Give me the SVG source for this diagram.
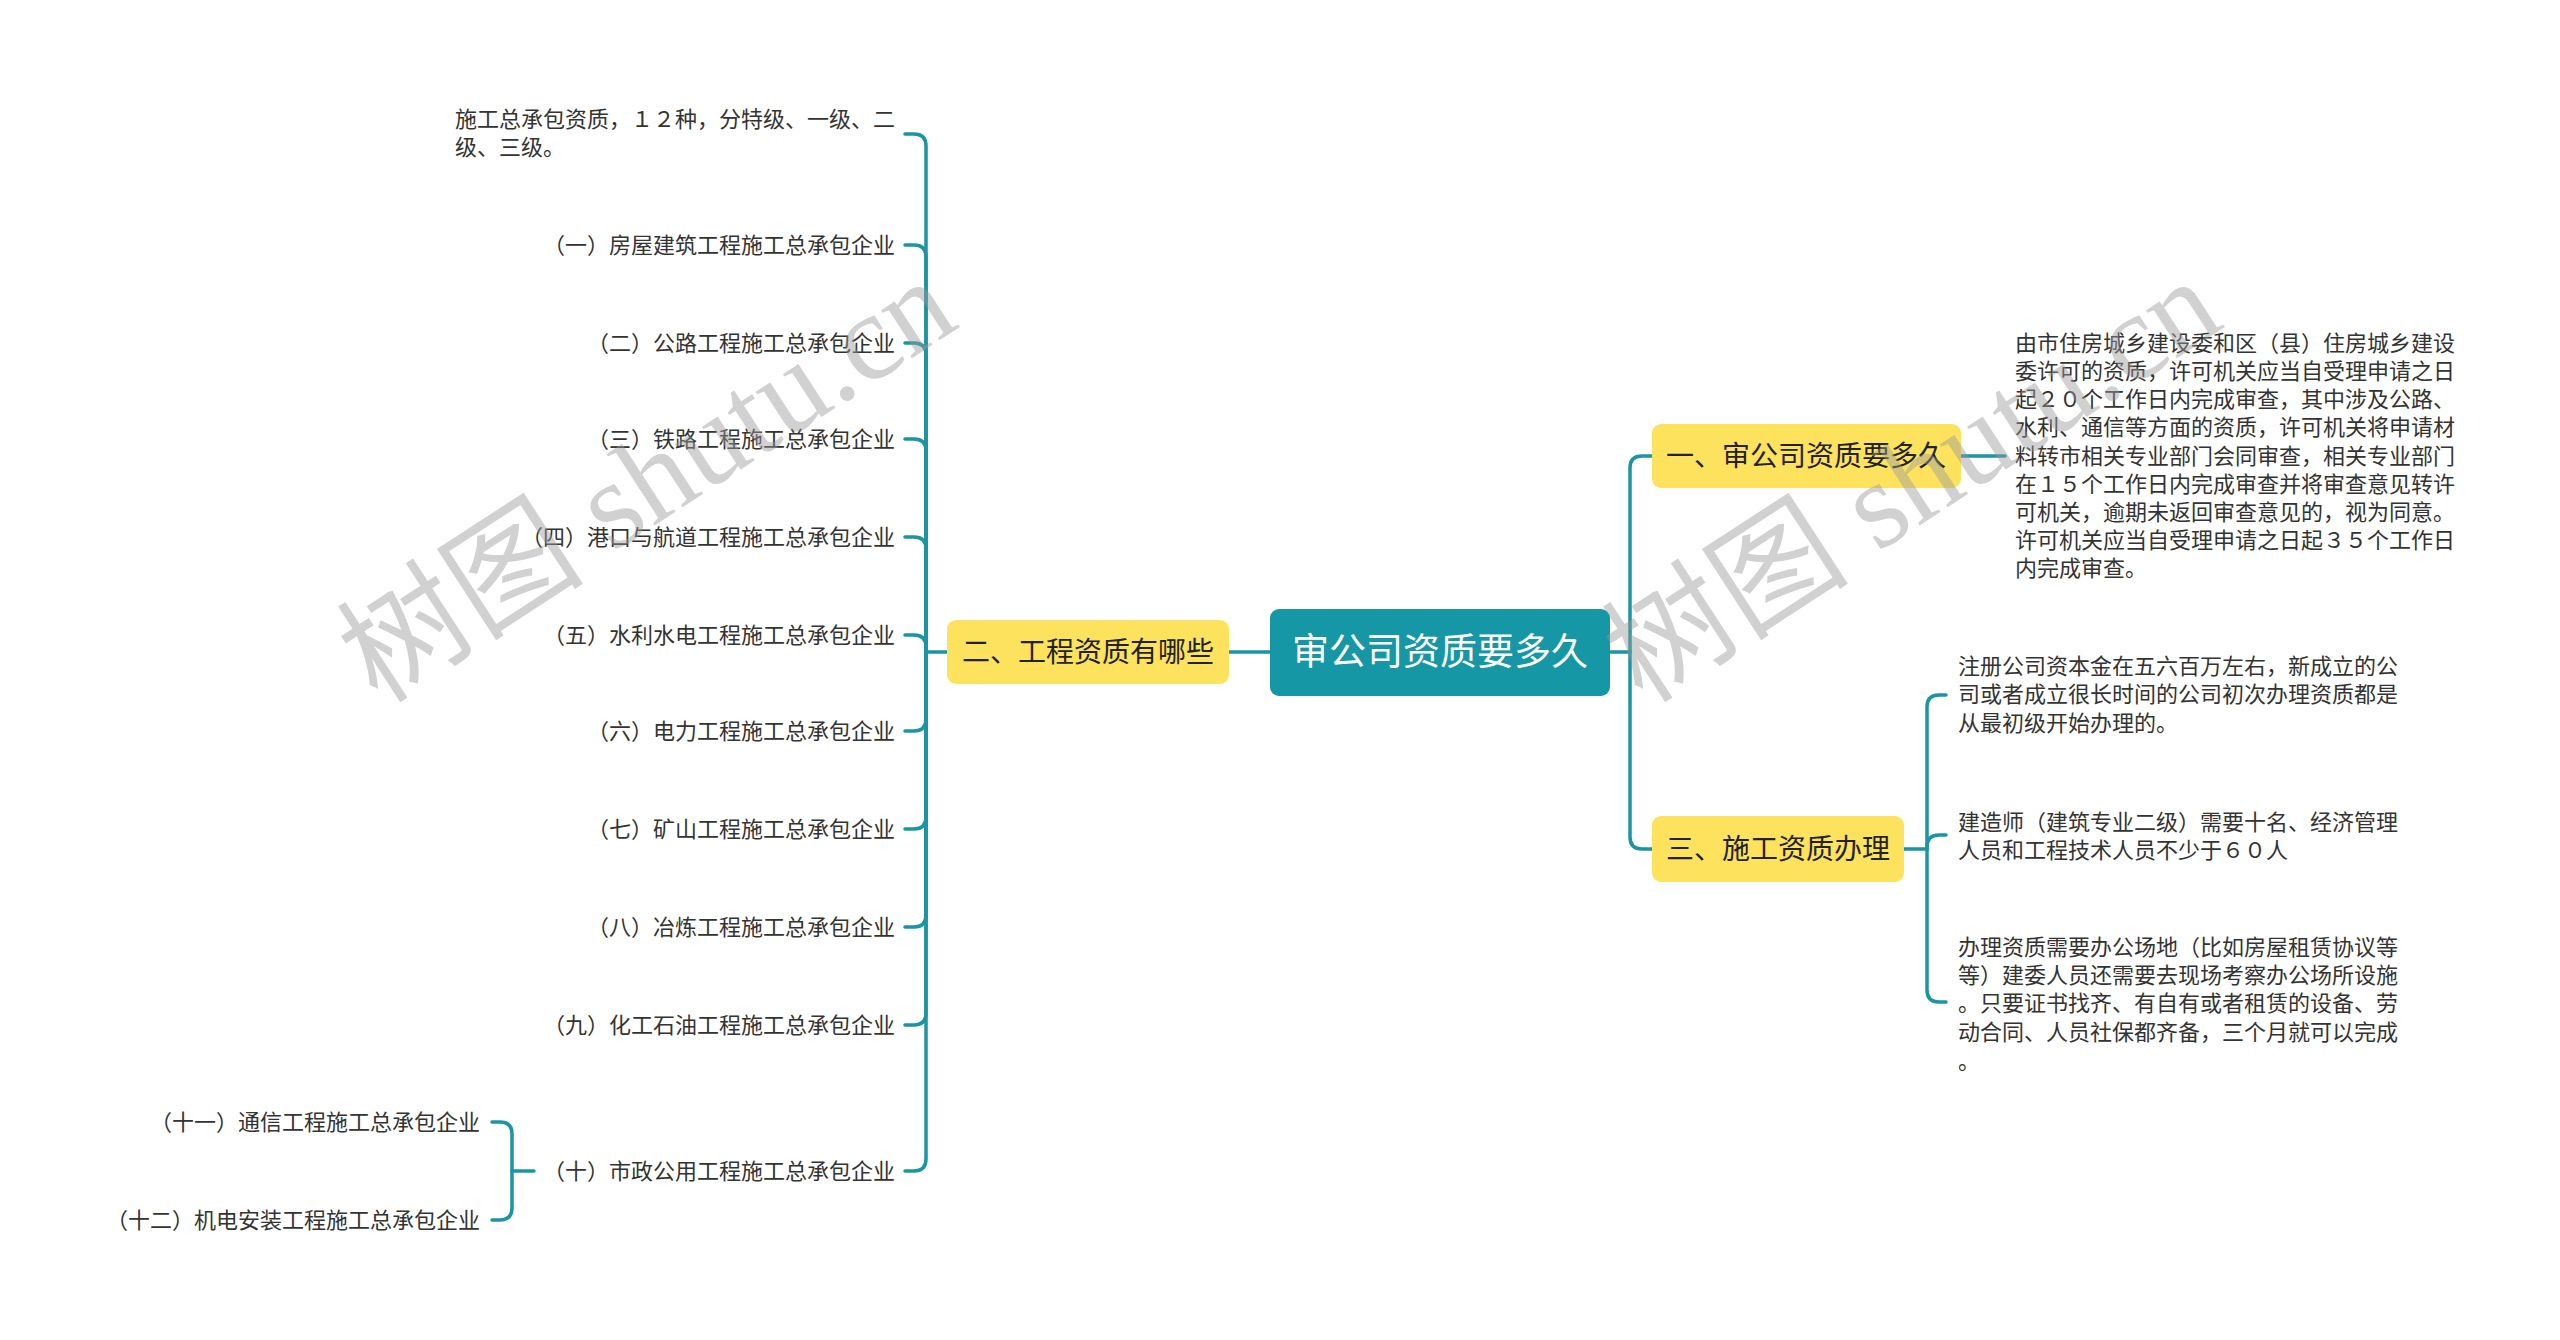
<svg xmlns="http://www.w3.org/2000/svg" width="2560" height="1340" viewBox="0 0 2560 1340">
<style>
.bg{fill:#ffffff}
.ln{fill:none;stroke:#1a95a4;stroke-width:3.5;stroke-linecap:round;stroke-linejoin:round}
.center{fill:#1597a5}
.sub{fill:#fde35d}
.ct{font-family:"Noto Sans CJK SC","Noto Sans",sans-serif;font-size:37px;fill:#ffffff;text-anchor:middle}
.st{font-family:"Noto Sans CJK SC","Noto Sans",sans-serif;font-size:28px;fill:#222222;text-anchor:middle}
.lt{font-family:"Noto Sans CJK SC","Noto Sans",sans-serif;font-size:22px;fill:#333333}
.end{text-anchor:end}
.wm{font-family:"Liberation Serif","Noto Sans CJK SC",serif;font-size:124px;fill:#9a9a9a;fill-opacity:0.45}
</style>
<rect class="bg" x="0" y="0" width="2560" height="1340"/>

<g id="connectors">
  <path class="ln" d="M1229 652 L1270 652"/>
  <path class="ln" d="M947 652 L926 652"/>
  <path class="ln" d="M926 652 L926 146 Q926 134 914 134 L905 134"/>
  <path class="ln" d="M926 652 L926 257 Q926 245 914 245 L905 245"/>
  <path class="ln" d="M926 652 L926 355 Q926 343 914 343 L905 343"/>
  <path class="ln" d="M926 652 L926 451 Q926 439 914 439 L905 439"/>
  <path class="ln" d="M926 652 L926 549 Q926 537 914 537 L905 537"/>
  <path class="ln" d="M926 652 L926 647 Q926 635 914 635 L905 635"/>
  <path class="ln" d="M926 652 L926 719 Q926 731 914 731 L905 731"/>
  <path class="ln" d="M926 652 L926 817 Q926 829 914 829 L905 829"/>
  <path class="ln" d="M926 652 L926 915 Q926 927 914 927 L905 927"/>
  <path class="ln" d="M926 652 L926 1013 Q926 1025 914 1025 L905 1025"/>
  <path class="ln" d="M926 652 L926 1159 Q926 1171 914 1171 L905 1171"/>
  <path class="ln" d="M534 1171 L512 1171"/>
  <path class="ln" d="M512 1171 L512 1134 Q512 1122 500 1122 L492 1122"/>
  <path class="ln" d="M512 1171 L512 1208 Q512 1220 500 1220 L492 1220"/>
  <path class="ln" d="M1610 652 L1630 652"/>
  <path class="ln" d="M1630 652 L1630 468 Q1630 456 1642 456 L1652 456"/>
  <path class="ln" d="M1630 652 L1630 837 Q1630 849 1642 849 L1652 849"/>
  <path class="ln" d="M1961 456 L2005 456"/>
  <path class="ln" d="M1904 849 L1927 849"/>
  <path class="ln" d="M1927 849 L1927 707 Q1927 695 1939 695 L1946 695"/>
  <path class="ln" d="M1927 849 L1927 847 Q1927 835 1939 835 L1946 835"/>
  <path class="ln" d="M1927 849 L1927 990 Q1927 1002 1939 1002 L1946 1002"/>
</g>

<g id="root">
  <rect class="center" x="1270" y="609" width="340" height="87" rx="9"/>
  <text class="ct" x="1440" y="665">审公司资质要多久</text>
</g>

<g id="n2">
  <rect class="sub" x="947" y="620" width="282" height="64" rx="9"/>
  <text class="st" x="1088" y="662">二、工程资质有哪些</text>
</g>
<g id="n2-0">
  <text class="lt" x="455" y="127">施工总承包资质，１２种，分特级、一级、二</text>
  <text class="lt" x="455" y="155">级、三级。</text>
</g>
<g id="n2-1"><text class="lt end" x="895" y="253">（一）房屋建筑工程施工总承包企业</text></g>
<g id="n2-2"><text class="lt end" x="895" y="351">（二）公路工程施工总承包企业</text></g>
<g id="n2-3"><text class="lt end" x="895" y="447">（三）铁路工程施工总承包企业</text></g>
<g id="n2-4"><text class="lt end" x="895" y="545">（四）港口与航道工程施工总承包企业</text></g>
<g id="n2-5"><text class="lt end" x="895" y="643">（五）水利水电工程施工总承包企业</text></g>
<g id="n2-6"><text class="lt end" x="895" y="739">（六）电力工程施工总承包企业</text></g>
<g id="n2-7"><text class="lt end" x="895" y="837">（七）矿山工程施工总承包企业</text></g>
<g id="n2-8"><text class="lt end" x="895" y="935">（八）冶炼工程施工总承包企业</text></g>
<g id="n2-9"><text class="lt end" x="895" y="1033">（九）化工石油工程施工总承包企业</text></g>
<g id="n2-10"><text class="lt end" x="895" y="1179">（十）市政公用工程施工总承包企业</text></g>
<g id="n2-11"><text class="lt end" x="480" y="1130">（十一）通信工程施工总承包企业</text></g>
<g id="n2-12"><text class="lt end" x="480" y="1228">（十二）机电安装工程施工总承包企业</text></g>

<g id="n1">
  <rect class="sub" x="1652" y="424" width="309" height="64" rx="9"/>
  <text class="st" x="1806" y="466">一、审公司资质要多久</text>
</g>
<g id="n1-1">
  <text class="lt" x="2015" y="351">由市住房城乡建设委和区（县）住房城乡建设</text>
  <text class="lt" x="2015" y="379">委许可的资质，许可机关应当自受理申请之日</text>
  <text class="lt" x="2015" y="407">起２０个工作日内完成审查，其中涉及公路、</text>
  <text class="lt" x="2015" y="435">水利、通信等方面的资质，许可机关将申请材</text>
  <text class="lt" x="2015" y="464">料转市相关专业部门会同审查，相关专业部门</text>
  <text class="lt" x="2015" y="492">在１５个工作日内完成审查并将审查意见转许</text>
  <text class="lt" x="2015" y="520">可机关，逾期未返回审查意见的，视为同意。</text>
  <text class="lt" x="2015" y="548">许可机关应当自受理申请之日起３５个工作日</text>
  <text class="lt" x="2015" y="576">内完成审查。</text>
</g>

<g id="n3">
  <rect class="sub" x="1652" y="816" width="252" height="66" rx="9"/>
  <text class="st" x="1778" y="859">三、施工资质办理</text>
</g>
<g id="n3-1">
  <text class="lt" x="1958" y="674">注册公司资本金在五六百万左右，新成立的公</text>
  <text class="lt" x="1958" y="702">司或者成立很长时间的公司初次办理资质都是</text>
  <text class="lt" x="1958" y="731">从最初级开始办理的。</text>
</g>
<g id="n3-2">
  <text class="lt" x="1958" y="830">建造师（建筑专业二级）需要十名、经济管理</text>
  <text class="lt" x="1958" y="858">人员和工程技术人员不少于６０人</text>
</g>
<g id="n3-3">
  <text class="lt" x="1958" y="955">办理资质需要办公场地（比如房屋租赁协议等</text>
  <text class="lt" x="1958" y="983">等）建委人员还需要去现场考察办公场所设施</text>
  <text class="lt" x="1958" y="1011">。只要证书找齐、有自有或者租赁的设备、劳</text>
  <text class="lt" x="1958" y="1040">动合同、人员社保都齐备，三个月就可以完成</text>
  <text class="lt" x="1958" y="1069">。</text>
</g>

<g id="watermark">
  <text class="wm" x="378" y="705" transform="rotate(-33 378 705)">树图 shutu.cn</text>
  <text class="wm" x="1643" y="705" transform="rotate(-33 1643 705)">树图 shutu.cn</text>
</g>
</svg>
